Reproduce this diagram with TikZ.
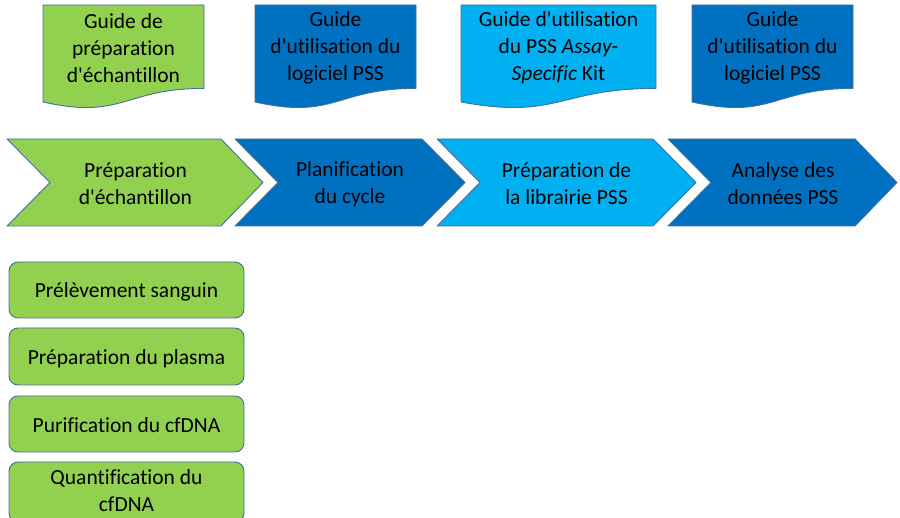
\documentclass[tikz,border=0pt]{standalone}
\usepackage{fontspec}
\setmainfont{Carlito}[Ligatures={TeXOff,NoCommon}]
\definecolor{cgreen}{HTML}{92D050}
\definecolor{cdark}{HTML}{0070C0}
\definecolor{clight}{HTML}{00B0F0}
\definecolor{cline}{HTML}{41719C}
\begin{document}
\begin{tikzpicture}[x=1pt,y=-1pt,
  shapeline/.style={draw=cline,line width=0.9pt,line join=round},
  txt/.style={align=center,font=\fontsize{21.5}{26.8}\selectfont,text=black,inner sep=0pt},
  boxstyle/.style={shapeline,fill=cgreen,rounded corners=9pt}]
\useasboundingbox (0,0) rectangle (900,518);
% documents
\newcommand\docshape[4]{% left, right, fill, name
  \path[shapeline,fill=#3] (#1,5) -- (#2,5) -- (#2,88.4)
     .. controls ({(#1+#2)/2},88.4) and ({(#1+#2)/2},120) .. (#1,102) -- cycle;
}
\docshape{43}{204}{cgreen}{d1}
\docshape{255}{416}{cdark}{d2}
\docshape{461}{656}{clight}{d3}
\docshape{692}{853}{cdark}{d4}
\node[txt] (d1) at (123.5,48) {Guide de\\préparation\\d'échantillon};
\node[txt] (d2) at (335.5,48) {Guide\\d'utilisation du\\logiciel PSS};
\node[txt] (d3) at (558.5,48) {Guide d'utilisation\\du PSS \textit{Assay-}\\\textit{Specific} Kit};
\node[txt] (d4) at (772.5,48) {Guide\\d'utilisation du\\logiciel PSS};
% chevrons
\newcommand\chev[4]{% left, topright, tip, fill
  \path[shapeline,fill=#4] (#1,139) -- (#2,139) -- (#3,182.5) -- (#2,226) -- (#1,226) -- ({#1+43},182.5) -- cycle;
}
\chev{7}{221}{263}{cgreen}
\chev{235}{422}{465}{cdark}
\chev{437}{653}{696}{clight}
\chev{668}{855}{897}{cdark}
\node[txt] (c1) at (135.5,184) {Préparation\\d'échantillon};
\node[txt] (c2) at (350,184) {Planification\\du cycle};
\node[txt] (c3) at (566.5,184) {Préparation de\\la librairie PSS};
\node[txt] (c4) at (783,184) {Analyse des\\données PSS};
% boxes
\path[boxstyle] (9,262) rectangle (244,318);
\path[boxstyle] (9,328) rectangle (244,385);
\path[boxstyle] (9,396) rectangle (244,452);
\path[boxstyle] (9,462) rectangle (244,522);
\node[txt] (b1) at (126.5,292) {Prélèvement sanguin};
\node[txt] (b2) at (126.5,358.5) {Préparation du plasma};
\node[txt] (b3) at (126.5,425.5) {Purification du cfDNA};
\node[txt] (b4) at (126.5,491) {Quantification du\\cfDNA};
\end{tikzpicture}
\end{document}
